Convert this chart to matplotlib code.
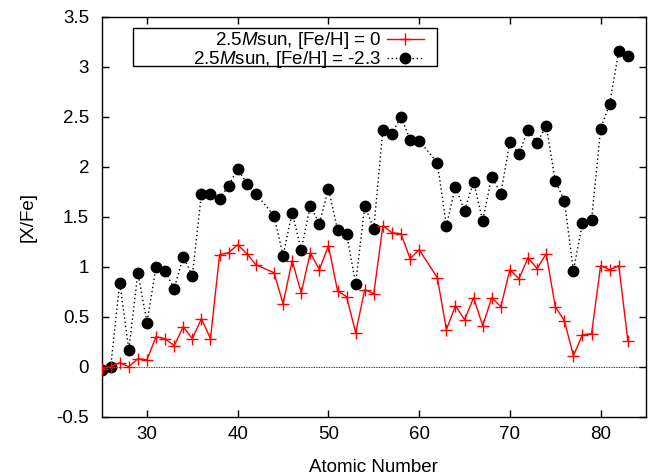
import numpy as np
import matplotlib
matplotlib.use('Agg')
import matplotlib.pyplot as plt
from matplotlib.patches import Rectangle

# ── Data ──────────────────────────────────────────────────────────────────────
Z = [25, 26, 27, 28, 29, 30, 31, 32, 33, 34, 35, 36, 37, 38, 39, 40, 41, 42,
     44, 45, 46, 47, 48, 49, 50, 51, 52, 53, 54, 55, 56, 57, 58, 59, 60,
     62, 63, 64, 65, 66, 67, 68, 69, 70, 71, 72, 73, 74, 75, 76, 77, 78, 79,
     80, 81, 82, 83]

xfe_solar = [-0.02, 0.00, 0.04, 0.00, 0.08, 0.07, 0.30, 0.28, 0.21, 0.40,
             0.28, 0.48, 0.28, 1.12, 1.14, 1.22, 1.13, 1.02,
             0.94, 0.63, 1.06, 0.74, 1.14, 0.97, 1.21, 0.76, 0.70, 0.34,
             0.77, 0.73, 1.41, 1.34, 1.33, 1.08, 1.17,
             0.89, 0.37, 0.61, 0.47, 0.69, 0.41, 0.69, 0.60, 0.97, 0.88,
             1.09, 0.98, 1.13, 0.60, 0.46, 0.11, 0.32, 0.33,
             1.01, 0.97, 1.01, 0.26]

xfe_poor = [-0.03, 0.00, 0.84, 0.17, 0.94, 0.44, 1.00, 0.96, 0.78, 1.10,
            0.91, 1.73, 1.73, 1.68, 1.81, 1.98, 1.83, 1.73,
            1.51, 1.11, 1.54, 1.17, 1.61, 1.43, 1.78, 1.37, 1.33, 0.83,
            1.61, 1.38, 2.37, 2.33, 2.50, 2.27, 2.26,
            2.04, 1.41, 1.80, 1.56, 1.85, 1.46, 1.90, 1.73, 2.25, 2.13,
            2.37, 2.24, 2.41, 1.86, 1.66, 0.96, 1.44, 1.47,
            2.38, 2.63, 3.16, 3.11]

LABELS = ['2.5$M$sun, [Fe/H] = 0', '2.5$M$sun, [Fe/H] = -2.3']

# ── Style ─────────────────────────────────────────────────────────────────────
plt.rcParams['font.family'] = ['Liberation Sans', 'DejaVu Sans']
plt.rcParams['mathtext.fontset'] = 'custom'
plt.rcParams['mathtext.rm'] = 'Liberation Sans'
plt.rcParams['mathtext.it'] = 'Liberation Sans:italic'
plt.rcParams['axes.unicode_minus'] = False
FS = 13.5

W, H = 649, 476
fig = plt.figure(figsize=(W / 100, H / 100), dpi=100)
L, R, T, B = 101.6, 646, 16.7, 416.7
ax = fig.add_axes([L / W, 1 - B / H, (R - L) / W, (B - T) / H])

ax.axhline(0, color='black', lw=0.6, ls=(0, (1, 1)), zorder=1)

ax.plot(Z, xfe_solar, color='red', lw=1.0, marker='+', ms=8, mew=1.0,
        label=LABELS[0], zorder=3)
ax.plot(Z, xfe_poor, color='black', lw=1.0, ls=(0, (1, 2)), marker='o',
        ms=7.5, label=LABELS[1], zorder=2)

ax.set_xlim(25, 85)
ax.set_ylim(-0.5, 3.5)
ax.set_xticks(range(30, 81, 10))
ax.set_yticks(np.arange(-0.5, 3.51, 0.5))
ax.yaxis.set_major_formatter(matplotlib.ticker.FormatStrFormatter('%g'))
ax.tick_params(direction='in', length=5, width=1.0, top=True, right=True,
               labelsize=FS, colors='black')
ax.tick_params(axis='x', pad=7)
ax.tick_params(axis='y', pad=9)
for s in ax.spines.values():
    s.set_linewidth(1.0)

ax.set_xlabel('Atomic Number', fontsize=FS, labelpad=11)
ax.set_ylabel('[X/Fe]', fontsize=FS, labelpad=14)

# legend box (gnuplot style: text right-aligned, sample on the right)
x0, x1 = (133 - L) / (R - L), (437 - L) / (R - L)
y1, y0 = (B - 28) / (B - T), (B - 66) / (B - T)
ax.add_patch(Rectangle((x0, y0), x1 - x0, y1 - y0, transform=ax.transAxes,
                       fill=False, ec='black', lw=1.0, zorder=5))
leg = ax.legend(loc='upper right', bbox_to_anchor=(x1 - 0.02, y1 - 0.001),
                frameon=False, markerfirst=False, fontsize=FS, numpoints=1,
                handlelength=2.0, handletextpad=0.3, labelspacing=-0.1,
                borderpad=0.1, borderaxespad=0)

fig.savefig('out.png', dpi=100)
